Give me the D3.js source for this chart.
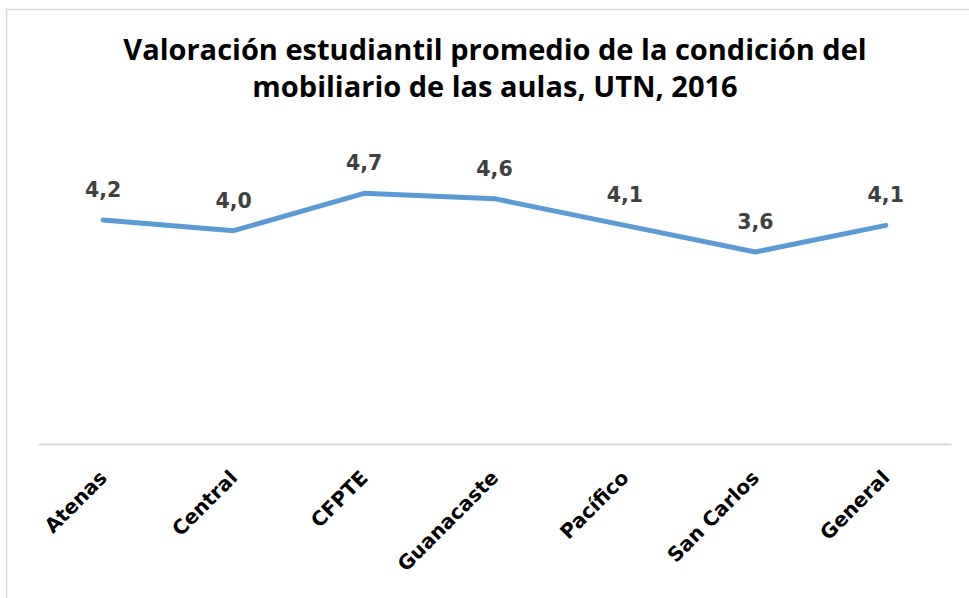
<!DOCTYPE html>
<html>
<head>
<meta charset="utf-8">
<script src="https://cdn.jsdelivr.net/npm/d3@7"></script>
<style>
  body { margin: 0; background: #fff; }
  svg { display: block; }
</style>
</head>
<body>
<div id="linechart"></div>
<script>
// data
const categories = ["Atenas", "Central", "CFPTE", "Guanacaste", "Pacífico", "San Carlos", "General"];
const values = [4.2, 4.0, 4.7, 4.6, 4.1, 3.6, 4.1];
const valueLabels = ["4,2", "4,0", "4,7", "4,6", "4,1", "3,6", "4,1"];
const titleLines = ["Valoración estudiantil promedio de la condición del", "mobiliario de las aulas, UTN, 2016"];

const W = 969, H = 598;
const margin = { top: 124, right: 18, bottom: 154, left: 38 };

const svg = d3.select("#linechart").append("svg")
    .attr("width", W)
    .attr("height", H);

// chart border (only top and left visible)
svg.append("path")
    .attr("d", "M6.5,598 V9.5 H969")
    .attr("fill", "none")
    .attr("stroke", "#d9d9d9")
    .attr("stroke-width", 1.5);

// title
svg.append("text")
    .attr("text-anchor", "middle")
    .attr("font-family", "'Open Sans', sans-serif")
    .attr("font-weight", "bold")
    .attr("font-size", 29)
    .attr("fill", "#000")
    .selectAll("tspan")
    .data(titleLines)
    .join("tspan")
    .attr("x", 495)
    .attr("y", (d, i) => 60 + i * 37)
    .text(d => d);

const x = d3.scaleBand()
    .domain(categories)
    .range([margin.left, W - margin.right]);

const y = d3.scaleLinear()
    .domain([0, 6])
    .range([H - margin.bottom, margin.top]);

// x axis
const xAxis = svg.append("g")
    .attr("transform", "translate(0," + (H - margin.bottom) + ")")
    .call(d3.axisBottom(x).tickSize(0).tickPadding(0));

xAxis.select(".domain")
    .attr("stroke", "#d9d9d9")
    .attr("stroke-width", 2);

xAxis.selectAll(".tick text")
    .attr("font-family", "'DejaVu Sans', sans-serif")
    .attr("font-weight", "bold")
    .attr("font-size", 20)
    .attr("fill", "#000")
    .attr("text-anchor", "end")
    .attr("dy", 0)
    .attr("transform", "translate(5,35) rotate(-45)");

const pts = categories.map((c, i) => ({ c: c, v: values[i], label: valueLabels[i] }));

const lineGenerator = d3.line()
    .x(d => x(d.c) + x.bandwidth() / 2)
    .y(d => y(d.v));

svg.append("path")
    .datum(pts)
    .attr("class", "line")
    .attr("fill", "none")
    .attr("stroke", "#5b9bd5")
    .attr("stroke-width", 5)
    .attr("stroke-linecap", "round")
    .attr("stroke-linejoin", "round")
    .attr("d", lineGenerator);

// data labels
svg.append("g")
    .selectAll("text")
    .data(pts)
    .join("text")
    .attr("x", d => x(d.c) + x.bandwidth() / 2)
    .attr("y", d => y(d.v) - 23)
    .attr("text-anchor", "middle")
    .attr("font-family", "'DejaVu Sans', sans-serif")
    .attr("font-weight", "bold")
    .attr("font-size", 20.5)
    .attr("fill", "#404040")
    .text(d => d.label);
</script>
</body>
</html>
